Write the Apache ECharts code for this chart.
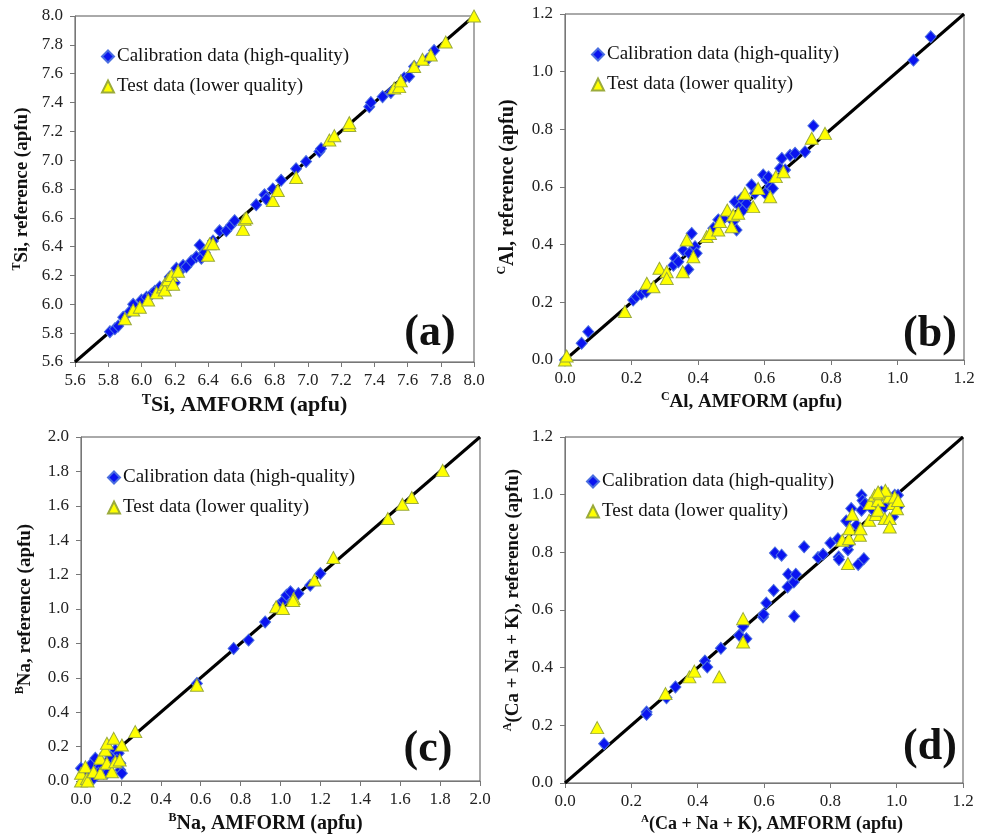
<!DOCTYPE html>
<html lang="en">
<head>
    <meta charset="UTF-8">
    <title>AMFORM vs reference</title>
    <script src="https://cdn.jsdelivr.net/npm/echarts@6/dist/echarts.min.js"></script>
</head>
<body style="margin:0">
<div id='box' style="width: 981px;height:839px;"></div>
<script>
    var calName = 'Calibration data (high-quality)';
    var testName = 'Test data (lower quality)';

    // axis ranges [min, max] per panel
    var rangeA = [5.6, 8.0];
    var rangeB = [0, 1.2];
    var rangeC = [0, 2.0];
    var rangeD = [0, 1.2];

    // (a) TSi
    var calA = [[5.81,5.81],[5.84,5.83],[5.86,5.85],[5.89,5.91],[5.93,5.95],[5.95,6.00],[6.00,6.03],[6.03,6.05],
        [6.06,6.07],[6.08,6.09],[6.11,6.12],[6.15,6.13],[6.17,6.19],[6.20,6.15],[6.21,6.25],[6.23,6.23],
        [6.25,6.27],[6.27,6.26],[6.30,6.30],[6.33,6.33],[6.35,6.41],[6.36,6.32],[6.38,6.36],[6.43,6.44],
        [6.47,6.51],[6.51,6.51],[6.54,6.55],[6.56,6.58],[6.69,6.69],[6.74,6.76],[6.75,6.73],[6.79,6.80],
        [6.84,6.86],[6.93,6.94],[6.99,6.99],[7.07,7.06],[7.08,7.08],[7.37,7.37],[7.38,7.40],[7.45,7.44],
        [7.50,7.47],[7.58,7.57],[7.61,7.58],[7.64,7.65],[7.72,7.70],[7.76,7.76]];
    var testA = [[5.90,5.90],[5.95,5.96],[5.99,5.98],[6.04,6.03],[6.09,6.08],[6.13,6.12],[6.14,6.14],[6.14,6.10],
        [6.16,6.17],[6.18,6.20],[6.19,6.14],[6.22,6.23],[6.40,6.34],[6.41,6.42],[6.43,6.42],[6.61,6.52],
        [6.62,6.59],[6.63,6.60],[6.79,6.72],[6.82,6.79],[6.93,6.88],[7.13,7.14],[7.16,7.17],[7.25,7.24],
        [7.25,7.26],[7.52,7.50],[7.55,7.51],[7.56,7.55],[7.64,7.65],[7.69,7.70],[7.74,7.73],[7.83,7.82],[8.00,8.00]];

    // (b) CAl
    var calB = [[0.00,0.00],[0.05,0.058],[0.07,0.098],[0.205,0.208],[0.215,0.22],[0.23,0.229],[0.245,0.237],
        [0.326,0.329],[0.331,0.353],[0.341,0.341],[0.356,0.381],[0.371,0.314],[0.374,0.37],[0.381,0.439],
        [0.391,0.393],[0.396,0.37],[0.446,0.457],[0.461,0.486],[0.476,0.491],[0.506,0.48],[0.516,0.451],
        [0.511,0.549],[0.526,0.532],[0.531,0.561],[0.536,0.52],[0.546,0.543],[0.561,0.607],[0.571,0.578],
        [0.596,0.642],[0.602,0.578],[0.607,0.624],[0.612,0.635],[0.617,0.601],[0.625,0.595],[0.647,0.665],
        [0.652,0.699],[0.662,0.659],[0.677,0.71],[0.692,0.717],[0.722,0.722],[0.747,0.812],[1.048,1.04],[1.10,1.121]];
    var testB = [[0.00,0.00],[0.005,0.014],[0.18,0.168],[0.246,0.266],[0.266,0.254],[0.284,0.318],[0.306,0.306],
        [0.306,0.283],[0.354,0.306],[0.366,0.416],[0.386,0.358],[0.426,0.428],[0.436,0.439],[0.461,0.451],
        [0.466,0.48],[0.488,0.52],[0.501,0.462],[0.506,0.503],[0.521,0.509],[0.541,0.578],[0.566,0.532],
        [0.581,0.595],[0.617,0.566],[0.634,0.636],[0.657,0.653],[0.742,0.769],[0.782,0.786]];

    // (c) BNa
    var calC = [[0.00,0.074],[0.038,0.064],[0.047,0.093],[0.072,0.132],[0.097,0.083],[0.13,0.083],[0.147,0.103],
        [0.164,0.141],[0.172,0.18],[0.189,0.161],[0.197,0.064],[0.205,0.045],[0.197,0.103],[0.114,0.045],
        [0.063,0.015],[0.022,0.025],[0.147,0.14],[0.18,0.12],[0.088,0.045],[0.13,0.045],[0.581,0.567],
        [0.765,0.771],[0.84,0.819],[0.923,0.925],[0.99,1.02],[1.015,1.05],[1.03,1.08],[1.05,1.10],
        [1.09,1.09],[1.149,1.138],[1.20,1.206]];
    var testC = [[0.00,0.00],[0.00,0.045],[0.03,0.015],[0.033,0.00],[0.022,0.083],[0.063,0.054],[0.097,0.045],
        [0.097,0.132],[0.122,0.18],[0.13,0.219],[0.164,0.248],[0.13,0.103],[0.155,0.054],[0.172,0.112],
        [0.194,0.122],[0.205,0.209],[0.272,0.287],[0.581,0.557],[0.978,1.013],[1.012,1.003],[1.066,1.061],
        [1.063,1.05],[1.17,1.168],[1.265,1.299],[1.538,1.526],[1.611,1.609],[1.658,1.648],[1.813,1.806]];

    // (d) A(Ca + Na + K)
    var calD = [[0.118,0.136],[0.246,0.246],[0.246,0.238],[0.306,0.296],[0.333,0.333],[0.422,0.423],[0.429,0.402],
        [0.47,0.467],[0.525,0.512],[0.537,0.543],[0.547,0.50],[0.597,0.576],[0.599,0.585],[0.607,0.624],
        [0.629,0.668],[0.633,0.798],[0.653,0.79],[0.673,0.724],[0.671,0.68],[0.69,0.697],[0.696,0.724],
        [0.691,0.578],[0.721,0.819],[0.763,0.782],[0.778,0.793],[0.80,0.832],[0.823,0.847],[0.825,0.784],
        [0.826,0.775],[0.848,0.909],[0.853,0.809],[0.858,0.83],[0.863,0.952],[0.879,0.894],[0.884,0.758],
        [0.894,0.946],[0.894,0.998],[0.897,0.98],[0.901,0.778],[0.904,0.969],[0.929,0.946],[0.944,0.986],
        [0.954,1.009],[0.964,0.957],[0.979,0.98],[0.989,0.923],[0.994,0.998],[1.004,0.957],[1.004,0.998]];
    var testD = [[0.097,0.192],[0.303,0.31],[0.375,0.368],[0.39,0.388],[0.465,0.368],[0.537,0.57],[0.537,0.489],
        [0.836,0.842],[0.853,0.761],[0.856,0.847],[0.858,0.882],[0.866,0.932],[0.889,0.859],[0.891,0.882],
        [0.917,0.911],[0.919,0.969],[0.934,0.998],[0.937,0.931],[0.944,0.98],[0.944,0.946],[0.949,1.003],
        [0.964,0.917],[0.974,1.003],[0.977,0.992],[0.979,0.917],[0.979,0.888],[0.989,0.969],[0.994,0.992],
        [1.001,0.951],[1.004,0.98],[0.966,1.015],[0.944,1.009]];

    var xNames = ['{s|T}{n|Si, AMFORM (apfu)}', '{s|C}{n|Al, AMFORM (apfu)}',
        '{s|B}{n|Na, AMFORM (apfu)}', '{s|A}{n|(Ca + Na + K), AMFORM (apfu)}'];
    var yNames = ['{s|T}{n|Si, reference (apfu)}', '{s|C}{n|Al, reference (apfu)}',
        '{s|B}{n|Na, reference (apfu)}', '{s|A}{n|(Ca + Na + K), reference (apfu)}'];
    var panelLabels = ['(a)', '(b)', '(c)', '(d)'];

    var font = 'Liberation Serif';
    var grids = [
        {left: 75, top: 16, width: 399, height: 346},
        {left: 565, top: 14, width: 399, height: 346},
        {left: 81, top: 437, width: 399, height: 344},
        {left: 565, top: 437, width: 398, height: 346}
    ];
    var xNameSize = [22, 19, 20, 18];
    var yNameSize = [19, 20, 19, 19];
    var xNamePad = [[0, 60, 0, 0], [0, 26, 0, 0], [0, 30, 0, 0], [0, 0, 0, 16]];
    var yNamePad = [[0, 0, 0, 0], [0, 0, 0, 0], [0, 0, 0, 0], [0, 0, 0, 20]];
    var yNameGaps = [42, 46, 45, 41];
    var legendPos = [[101, 47], [591, 45], [107, 468], [586, 472]];
    var labelPos = [[430, 334], [930, 335], [428, 750], [930, 748]];
    var ranges = [rangeA, rangeB, rangeC, rangeD];
    var cals = [calA, calB, calC, calD];
    var tests = [testA, testB, testC, testD];

    function richFor(size) {
        return {
            n: {fontFamily: font, fontSize: size, fontWeight: 'bold', color: '#111', lineHeight: size + 3},
            s: {fontFamily: font, fontSize: Math.round(size * 0.62), fontWeight: 'bold', color: '#111',
                lineHeight: Math.round(size * 0.62), verticalAlign: 'top'}
        };
    }

    function axis(i, isX) {
        return {
            type: 'value',
            gridIndex: i,
            min: ranges[i][0],
            max: ranges[i][1],
            interval: 0.2,
            name: isX ? xNames[i] : yNames[i],
            nameLocation: 'middle',
            nameGap: isX ? 31 : yNameGaps[i],
            nameTextStyle: {
                rich: richFor(isX ? xNameSize[i] : yNameSize[i]),
                padding: isX ? xNamePad[i] : yNamePad[i]
            },
            splitLine: {show: false},
            axisLine: {onZero: false, lineStyle: {color: '#777', width: 1}},
            axisTick: {show: true, inside: false, length: 5, lineStyle: {color: '#777'}},
            axisLabel: {
                fontFamily: font, fontSize: 17, color: '#222', margin: isX ? 10 : 12,
                formatter: function (v) { return v.toFixed(1); }
            }
        };
    }

    var xAxes = [], yAxes = [], series = [], legends = [], graphics = [];
    for (var i = 0; i < 4; i++) {
        grids[i].show = true;
        grids[i].borderColor = '#555';
        grids[i].borderWidth = 1;
        xAxes.push(axis(i, true));
        yAxes.push(axis(i, false));
        series.push({
            name: '1:1', type: 'line', xAxisIndex: i, yAxisIndex: i,
            data: [[ranges[i][0], ranges[i][0]], [ranges[i][1], ranges[i][1]]],
            symbol: 'none', lineStyle: {color: '#000', width: 3}, z: 1, silent: true
        });
        series.push({
            name: calName, type: 'scatter', xAxisIndex: i, yAxisIndex: i,
            data: cals[i], symbol: 'diamond', symbolSize: [11, 12], z: 2,
            itemStyle: {color: '#0a14f0', borderColor: '#4a6ee0', borderWidth: 1, opacity: 1}
        });
        series.push({
            name: testName, type: 'scatter', xAxisIndex: i, yAxisIndex: i,
            data: tests[i], symbol: 'triangle', symbolSize: [13, 12], z: 3,
            itemStyle: {color: '#ffff00', borderColor: '#9bab3c', borderWidth: 1, opacity: 1}
        });
        legends.push({
            data: [calName, testName],
            orient: 'vertical',
            left: legendPos[i][0], top: legendPos[i][1],
            padding: 0, itemGap: 11, itemWidth: 12, itemHeight: 12,
            selectedMode: false,
            textStyle: {fontFamily: font, fontSize: 19, color: '#111', padding: [0, 0, 0, -2]}
        });
        graphics.push({
            type: 'text', x: labelPos[i][0], y: labelPos[i][1],
            style: {
                text: panelLabels[i], fontFamily: font, fontSize: 44, fontWeight: 'bold',
                fill: '#111', textAlign: 'center', textVerticalAlign: 'middle'
            }
        });
    }

    var myChart = echarts.init(document.getElementById('box'));
    var option = {
        animation: false,
        backgroundColor: '#fff',
        grid: grids,
        xAxis: xAxes,
        yAxis: yAxes,
        legend: legends,
        graphic: graphics,
        series: series
    };
    myChart.setOption(option);
</script>
</body>
</html>
